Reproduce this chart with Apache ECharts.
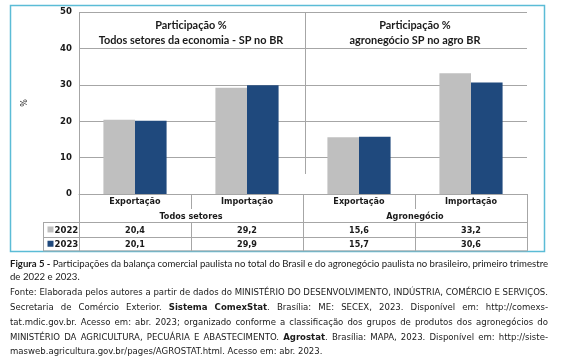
<!DOCTYPE html>
<html><head><meta charset="utf-8">
<script src="https://cdn.jsdelivr.net/npm/echarts@6/dist/echarts.min.js"></script>
<style>html,body{margin:0;padding:0;background:#fff}#c{width:563px;height:363px}</style>
</head><body><div id="c"></div>
<script>
const categories = ['Exportação', 'Importação', 'Exportação', 'Importação'];
const groups = ['Todos setores', 'Agronegócio'];
const groupTitles = [['Participação %', 'Todos setores da economia - SP no BR'], ['Participação %', 'agronegócio SP no agro BR']];
const years = ['2022', '2023'];
const values2022 = [20.4, 29.2, 15.6, 33.2];
const values2023 = [20.1, 29.9, 15.7, 30.6];
const valueLabels2022 = ['20,4', '29,2', '15,6', '33,2'];
const valueLabels2023 = ['20,1', '29,9', '15,7', '30,6'];
const yTicks = [0, 10, 20, 30, 40, 50];
const captionLines = [
  [{t: 'Figura 5 -', b: true}, {t: 'Participações da balança comercial paulista no total do Brasil e do agronegócio paulista no brasileiro, primeiro trimestre'}],
  [{t: 'de 2022 e 2023.'}]
];
const sourceLines = [
  [{t: 'Fonte: Elaborada pelos autores a partir de dados do MINISTÉRIO DO DESENVOLVIMENTO, INDÚSTRIA, COMÉRCIO E SERVIÇOS.'}],
  [{t: 'Secretaria de Comércio Exterior.'}, {t: 'Sistema ComexStat', b: true}, {t: '. Brasília: ME: SECEX, 2023. Disponível em: http://comexs-', glue: true}],
  [{t: 'tat.mdic.gov.br. Acesso em: abr. 2023; organizado conforme a classificação dos grupos de produtos dos agronegócios do'}],
  [{t: 'MINISTÉRIO DA AGRICULTURA, PECUÁRIA E ABASTECIMENTO.'}, {t: 'Agrostat', b: true}, {t: '. Brasília: MAPA, 2023. Disponível em: http://siste-', glue: true}],
  [{t: 'masweb.agricultura.gov.br/pages/AGROSTAT.html. Acesso em: abr. 2023.'}]
];

const COL_GRAY = '#bfbfbf', COL_BLUE = '#1f497d', LINE = '#a6a6a6', TXT = '#1a1a1a';
const F_TAB = '"DejaVu Sans Condensed", "DejaVu Sans", sans-serif';
const F_CAL = 'Lato, "Noto Sans", sans-serif';

const chart = echarts.init(document.getElementById('c'), null, {renderer: 'canvas'});
const option = {
  animation: false,
  backgroundColor: '#fff',
  grid: {left: 79, right: 36, top: 12, bottom: 169, containLabel: false},
  xAxis: {
    type: 'category', data: categories,
    axisLine: {show: true, lineStyle: {color: LINE, width: 1}},
    axisTick: {show: false}, axisLabel: {show: false}, splitLine: {show: false}
  },
  yAxis: {
    type: 'value', min: yTicks[0], max: yTicks[yTicks.length - 1], interval: 10,
    axisLine: {show: false}, axisTick: {show: false},
    axisLabel: {fontWeight: 'bold', fontSize: 9.5, color: TXT, fontFamily: F_TAB, margin: 7},
    splitLine: {lineStyle: {color: LINE, width: 1}},
    name: '%', nameLocation: 'middle', nameRotate: 90, nameGap: 50,
    nameTextStyle: {fontSize: 9, color: TXT, fontFamily: F_TAB}
  },
  series: [
    {name: years[0], type: 'bar', data: values2022, itemStyle: {color: COL_GRAY}, barGap: '0%', barCategoryGap: '43.6%'},
    {name: years[1], type: 'bar', data: values2023, itemStyle: {color: COL_BLUE}, barGap: '0%', barCategoryGap: '43.6%'}
  ]
};
chart.setOption(option);

const cx = categories.map((c, i) => chart.convertToPixel({xAxisIndex: 0}, i));
const band = cx[1] - cx[0];
const xL = cx[0] - band / 2, xR = cx[3] + band / 2, xMid = (cx[1] + cx[2]) / 2;
const y0 = chart.convertToPixel({yAxisIndex: 0}, 0);
const yTop = chart.convertToPixel({yAxisIndex: 0}, yTicks[yTicks.length - 1]);
const rowH = 14.3;
const r1 = y0 + 15, r2 = r1 + 13.3, r3 = r2 + rowH, r4 = r3 + rowH;
const legL = xL - 36;

const g = [];
function line(x1, y1, x2, y2, color, w) {
  g.push({type: 'line', shape: {x1, y1, x2, y2}, style: {stroke: color || LINE, lineWidth: w || 1}, silent: true});
}
function text(t, x, y, o) {
  o = o || {};
  g.push({type: 'text', x, y, silent: true, style: {
    text: t, fill: o.fill || TXT, fontSize: o.size || 9, fontFamily: o.family || F_TAB,
    fontWeight: o.bold ? 'bold' : 'normal', textAlign: o.align || 'center', textVerticalAlign: 'middle'}});
}
// outer frame
g.push({type: 'rect', shape: {x: 10.5, y: 5.5, width: 534, height: 246}, style: {fill: 'none', stroke: '#5bbcd6', lineWidth: 1.5}, silent: true});
// plot frame lines
const px = v => Math.round(v) + 0.5;
line(px(xL), yTop, px(xL), r4);
line(px(xMid) + 2, yTop, px(xMid) + 2, chart.convertToPixel({yAxisIndex: 0}, 5.5));
// table lines
[cx[0] + band / 2, cx[2] + band / 2].forEach(x => { line(px(x), y0, px(x), r1); line(px(x), r2, px(x), r4); });
line(px(xMid), y0, px(xMid), r4);
line(px(xR), y0, px(xR), r4);
line(px(legL), r2, px(legL), r4);
[r2, r3].forEach(y => line(legL, px(y), xR, px(y)));
line(legL, r4, xR, r4);
// titles
groupTitles.forEach((tt, gi) => {
  const c = gi === 0 ? (xL + xMid) / 2 : (xMid + xR) / 2;
  text(tt[0], c, yTop + 13.5, {bold: true, size: 10.9, family: F_CAL});
  text(tt[1], c, yTop + 28.5, {bold: true, size: 10.9, family: F_CAL});
});
// category labels
categories.forEach((c, i) => text(c, cx[i], (y0 + r1) / 2 + 0.5, {bold: true}));
groups.forEach((gname, gi) => text(gname, gi === 0 ? (xL + xMid) / 2 : (xMid + xR) / 2, (r1 + r2) / 2 + 1, {bold: true}));
valueLabels2022.forEach((v, i) => text(v, cx[i], (r2 + r3) / 2 + 1, {bold: true}));
valueLabels2023.forEach((v, i) => text(v, cx[i], (r3 + r4) / 2 + 1, {bold: true}));
// legend keys
[[years[0], COL_GRAY, (r2 + r3) / 2], [years[1], COL_BLUE, (r3 + r4) / 2]].forEach(([yr, col, yc]) => {
  g.push({type: 'rect', shape: {x: legL + 4.5, y: yc - 3, width: 6, height: 6}, style: {fill: col}, silent: true});
  text(yr, legL + 11.5, yc + 1, {bold: true, size: 9.5, align: 'left'});
});

// caption / source with justification
const ctx = document.createElement('canvas').getContext('2d');
function measure(t, bold, size, family) { ctx.font = (bold ? 'bold ' : '') + size + 'px ' + family; return ctx.measureText(t).width; }
function layoutLine(tokens, x0, x1, y, size, family, justify) {
  const words = [];
  tokens.forEach(tk => {
    const parts = tk.t.split(' ').filter(w => w);
    parts.forEach((w, k) => {
      if (k === 0 && tk.glue && words.length) { words.push({t: w, b: !!tk.b, glue: true}); }
      else words.push({t: w, b: !!tk.b});
    });
  });
  const widths = words.map(w => measure(w.t, w.b, size, family));
  const total = widths.reduce((a, b) => a + b, 0);
  const gaps = words.filter((w, i) => i > 0 && !w.glue).length;
  const sp = justify && gaps ? (x1 - x0 - total) / gaps : measure(' ', false, size, family);
  let x = x0;
  words.forEach((w, i) => {
    if (i > 0 && !w.glue) x += sp;
    text(w.t, x, y, {bold: w.b, size, family, align: 'left'});
    x += widths[i];
  });
}
layoutLine(captionLines[0], 10, 548, 264, 9.6, F_CAL, true);
layoutLine(captionLines[1], 10, 548, 277, 9.6, F_CAL, false);
const srcY = [293, 308, 323, 338, 352];
sourceLines.forEach((ln, i) => layoutLine(ln, 10, 548, srcY[i], 9.5, F_TAB, i < sourceLines.length - 1));

chart.setOption({graphic: {elements: g}});
</script></body></html>
